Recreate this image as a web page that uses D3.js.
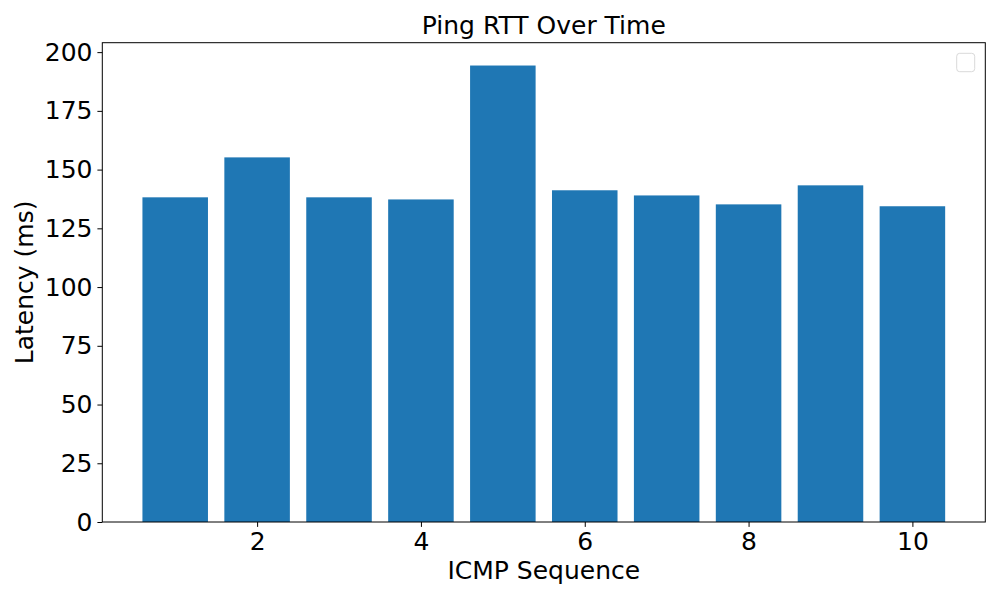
<!DOCTYPE html>
<html>
<head>
<meta charset="utf-8">
<script src="https://cdn.jsdelivr.net/npm/d3@7"></script>
<style>
  html, body { margin: 0; padding: 0; background: #fff; }
  svg text { font-family: "DejaVu Sans", sans-serif; fill: #000; }
</style>
</head>
<body>
<svg id="chart" width="1000" height="600"></svg>
<script>
const sequences = [1, 2, 3, 4, 5, 6, 7, 8, 9, 10];
const latencies = [138.2, 155.2, 138.2, 137.3, 194.3, 141.2, 139.0, 135.2, 143.3, 134.4];
const xTickValues = [2, 4, 6, 8, 10];
const yTickValues = [0, 25, 50, 75, 100, 125, 150, 175, 200];
const titleText = "Ping RTT Over Time";
const xLabelText = "ICMP Sequence";
const yLabelText = "Latency (ms)";

const svg = d3.select("#chart");
const pL = 102.3, pR = 985.3, pT = 42.7, pB = 522;
const barWidth = 0.8;
const fs = 25;

const xMin = d3.min(sequences) - barWidth / 2, xMax = d3.max(sequences) + barWidth / 2;
const xPad = (xMax - xMin) * 0.05;
const x = d3.scaleLinear().domain([xMin - xPad, xMax + xPad]).range([pL, pR]);
const y = d3.scaleLinear().domain([0, d3.max(latencies) * 1.05]).range([pB, pT]);

svg.append("g").selectAll("rect").data(sequences).join("rect")
  .attr("x", (d) => x(d - barWidth / 2))
  .attr("width", (d) => x(d + barWidth / 2) - x(d - barWidth / 2))
  .attr("y", (d, i) => y(latencies[i]))
  .attr("height", (d, i) => y(0) - y(latencies[i]))
  .attr("fill", "#1f77b4");

const xAxis = svg.append("g").attr("transform", `translate(0,${pB})`)
  .call(d3.axisBottom(x).tickValues(xTickValues).tickFormat(d3.format("d")).tickSize(4.9).tickPadding(4.9));
const yAxis = svg.append("g").attr("transform", `translate(${pL},0)`)
  .call(d3.axisLeft(y).tickValues(yTickValues).tickFormat(d3.format("d")).tickSize(4.9).tickPadding(4.9));
[xAxis, yAxis].forEach(g => {
  g.select(".domain").remove();
  g.selectAll("line").attr("stroke", "#000").attr("stroke-width", 1);
  g.selectAll("text").attr("font-size", fs).attr("font-family", "DejaVu Sans").attr("fill", "#000");
});

svg.append("rect").attr("x", pL).attr("y", pT).attr("width", pR - pL).attr("height", pB - pT)
  .attr("fill", "none").attr("stroke", "#000").attr("stroke-width", 1);

svg.append("rect").attr("x", 956.7).attr("y", 53.3).attr("width", 18).attr("height", 18.4)
  .attr("rx", 3).attr("fill", "#fff").attr("stroke", "#d9d9d9").attr("stroke-width", 1);

svg.append("text").attr("x", (pL + pR) / 2).attr("y", 34).attr("text-anchor", "middle")
  .attr("font-size", fs).text(titleText);
svg.append("text").attr("x", (pL + pR) / 2).attr("y", 579).attr("text-anchor", "middle")
  .attr("font-size", fs).text(xLabelText);
svg.append("text").attr("transform", `translate(32.5,${(pT + pB) / 2}) rotate(-90)`).attr("text-anchor", "middle")
  .attr("font-size", fs).text(yLabelText);
</script>
</body>
</html>
